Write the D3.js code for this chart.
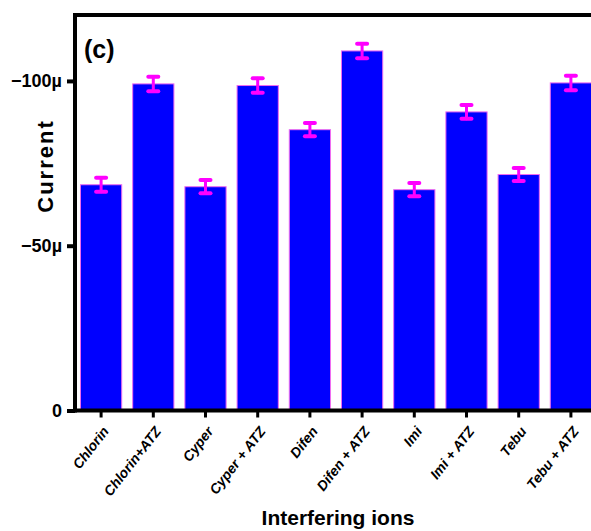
<!DOCTYPE html>
<html>
<head>
<meta charset="utf-8">
<script src="https://cdn.jsdelivr.net/npm/d3@7"></script>
<style>
  html, body { margin: 0; padding: 0; background: #fff; overflow: hidden; }
  svg { display: block; }
  text { font-family: "Liberation Sans", Arial, sans-serif; fill: #000; }
</style>
</head>
<body>
<svg id="chart" width="591" height="531"></svg>
<script>
// Interfering species tested alone and mixed with atrazine (ATZ)
const categories = ["Chlorin", "Chlorin+ATZ", "Cyper", "Cyper + ATZ", "Difen",
                    "Difen + ATZ", "Imi", "Imi + ATZ", "Tebu", "Tebu + ATZ"];
// Peak current (A) and its standard deviation
const current = [-68.5e-6, -99.1e-6, -67.9e-6, -98.6e-6, -85.2e-6,
                 -109.1e-6, -67.0e-6, -90.6e-6, -71.6e-6, -99.4e-6];
const errors  = [2.1e-6, 2.2e-6, 2.0e-6, 2.2e-6, 2.0e-6,
                 2.2e-6, 2.0e-6, 2.1e-6, 2.0e-6, 2.2e-6];
const yTicks = [0, -50e-6, -100e-6];

const svg = d3.select("#chart");

const x = d3.scaleBand()
  .domain(categories)
  .range([75, 597])
  .paddingInner(0.21)
  .paddingOuter(0.105);

const y = d3.scaleLinear()
  .domain([0, -120e-6])
  .range([410.5, 15]);

// Bars
svg.append("g").selectAll("rect")
  .data(categories)
  .join("rect")
  .attr("x", d => x(d))
  .attr("width", x.bandwidth())
  .attr("y", (d, i) => y(current[i]))
  .attr("height", (d, i) => y(0) - y(current[i]))
  .attr("fill", "#0000ff")
  .attr("stroke", "#f06cf0")
  .attr("stroke-width", 1);

// Error bars
const eb = svg.append("g")
  .attr("stroke", "#ff00ff")
  .attr("stroke-linecap", "round");
categories.forEach((c, i) => {
  const cx = x(c) + x.bandwidth() / 2;
  const top = y(current[i] - errors[i]);
  const bot = y(current[i] + errors[i]);
  eb.append("line").attr("x1", cx).attr("x2", cx).attr("y1", top).attr("y2", bot)
    .attr("stroke-width", 3);
  eb.append("line").attr("x1", cx - 5).attr("x2", cx + 5).attr("y1", top).attr("y2", top)
    .attr("stroke-width", 4);
  eb.append("line").attr("x1", cx - 5).attr("x2", cx + 5).attr("y1", bot).attr("y2", bot)
    .attr("stroke-width", 4);
});

// Top border of the frame
svg.append("line")
  .attr("x1", 73).attr("x2", 591)
  .attr("y1", 15).attr("y2", 15)
  .attr("stroke", "#000").attr("stroke-width", 4);

// Y axis
const yAxis = svg.append("g")
  .attr("transform", "translate(75,0)")
  .call(d3.axisLeft(y).tickValues(yTicks).tickFormat(d3.format("~s"))
        .tickSize(8).tickPadding(5));
yAxis.select(".domain").remove();
yAxis.append("line")
  .attr("x1", 0).attr("x2", 0).attr("y1", 13).attr("y2", 412.5)
  .attr("stroke", "#000").attr("stroke-width", 4);
yAxis.selectAll(".tick line").attr("stroke", "#000").attr("stroke-width", 4);
yAxis.selectAll(".tick text")
  .attr("font-size", 18).attr("font-weight", "bold")
  .attr("font-family", "'Liberation Sans', Arial, sans-serif")
  .attr("fill", "#000");

// X axis with slanted category labels
const xAxis = svg.append("g")
  .attr("transform", "translate(0,410.5)")
  .call(d3.axisBottom(x).tickSize(7).tickSizeOuter(0));
xAxis.select(".domain").remove();
xAxis.append("line")
  .attr("x1", 73).attr("x2", 591).attr("y1", 0).attr("y2", 0)
  .attr("stroke", "#000").attr("stroke-width", 4);
xAxis.selectAll(".tick line").attr("stroke", "#000").attr("stroke-width", 3);
xAxis.selectAll(".tick text")
  .attr("x", 0).attr("y", 0).attr("dy", 0)
  .attr("text-anchor", "end")
  .attr("font-family", "'Liberation Sans', Arial, sans-serif")
  .attr("font-size", 14)
  .attr("font-style", "italic")
  .attr("font-weight", "bold")
  .attr("fill", "#000")
  .attr("transform", "translate(8.5,21) rotate(-52)");

// Panel letter
svg.append("text")
  .attr("x", 84).attr("y", 58)
  .attr("font-size", 25).attr("font-weight", "bold")
  .text("(c)");

// Axis titles
svg.append("text")
  .attr("transform", "translate(53,166) rotate(-90)")
  .attr("text-anchor", "middle")
  .attr("font-size", 22).attr("font-weight", "bold")
  .attr("letter-spacing", 2)
  .text("Current");

svg.append("text")
  .attr("x", 338).attr("y", 525)
  .attr("text-anchor", "middle")
  .attr("font-size", 21).attr("font-weight", "bold")
  .text("Interfering ions");
</script>
</body>
</html>
